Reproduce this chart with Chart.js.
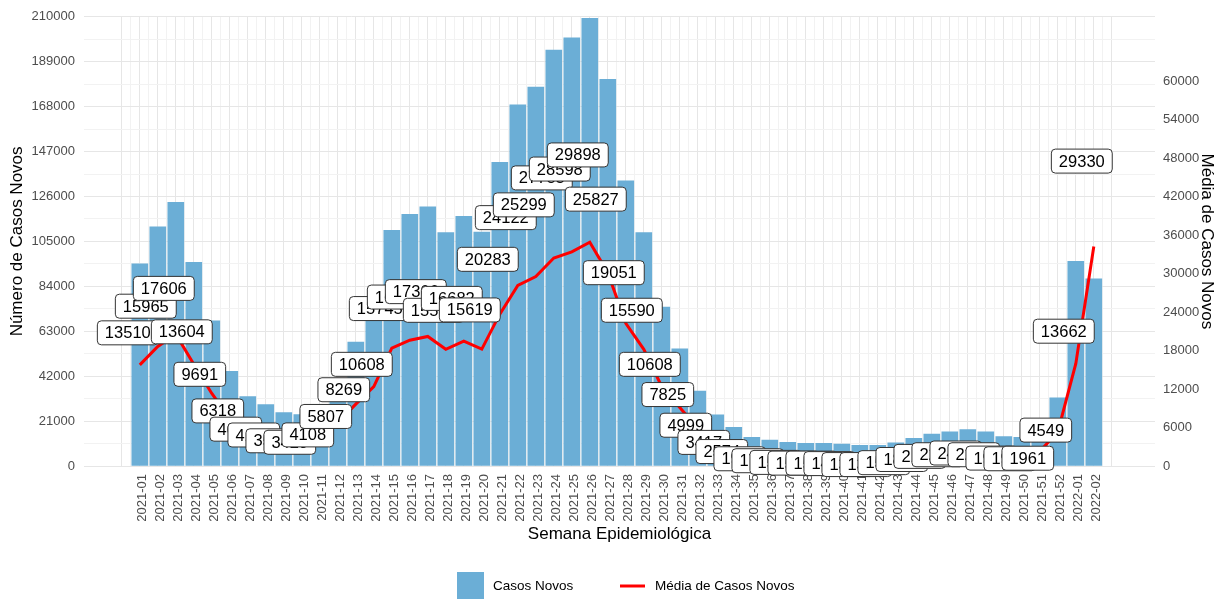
<!DOCTYPE html>
<html lang="pt-BR">
<head>
<meta charset="utf-8">
<title>Casos Novos por Semana Epidemiológica</title>
<script src="https://cdn.jsdelivr.net/npm/chart.js@4.4.1/dist/chart.umd.min.js"></script>
<style>
  html, body { margin: 0; padding: 0; background: #fff; }
  #chart { display: block; }
</style>
</head>
<body>
<canvas id="chart" width="1223" height="599"></canvas>
<script>
// Semanas epidemiológicas (eixo x)
const weeks = [
  '2021-01', '2021-02', '2021-03', '2021-04', '2021-05', '2021-06', '2021-07', '2021-08', '2021-09', '2021-10',
  '2021-11', '2021-12', '2021-13', '2021-14', '2021-15', '2021-16', '2021-17', '2021-18', '2021-19', '2021-20',
  '2021-21', '2021-22', '2021-23', '2021-24', '2021-25', '2021-26', '2021-27', '2021-28', '2021-29', '2021-30',
  '2021-31', '2021-32', '2021-33', '2021-34', '2021-35', '2021-36', '2021-37', '2021-38', '2021-39', '2021-40',
  '2021-41', '2021-42', '2021-43', '2021-44', '2021-45', '2021-46', '2021-47', '2021-48', '2021-49', '2021-50',
  '2021-51', '2021-52', '2022-01', '2022-02'
];

// Casos novos por semana (barras, eixo esquerdo)
const newCases = [
  94570, 111760, 123240, 95230, 67840, 44230, 32460, 28710, 24960, 24000,
  28760, 40650, 57880, 74260, 110200, 117650, 121140, 109090, 116770, 109330,
  141980, 168850, 177090, 194480, 200190, 209290, 180790, 133360, 109130, 74260,
  54780, 34990, 23920, 18020, 13360, 12110, 11030, 10560, 10560, 10240,
  9620, 9620, 10860, 12900, 14900, 15970, 17080, 15970, 13800, 13360,
  13730, 31840, 95630, 87530
];

// Média de casos novos (linha e rótulos)
const avgCases = [
  13510, 15965, 17606, 13604, 9691, 6318, 4637, 4101, 3566, 3429,
  4108, 5807, 8269, 10608, 15745, 16807, 17306, 15584, 16682, 15619,
  20283, 24122, 25299, 27783, 28598, 29898, 25827, 19051, 15590, 10608,
  7825, 4999, 3417, 2574, 1909, 1730, 1576, 1509, 1509, 1463,
  1374, 1374, 1551, 1843, 2129, 2281, 2440, 2281, 1971, 1909,
  1961, 4549, 13662, 29330
];

// Marcas dos eixos
const leftTicks = [0, 21000, 42000, 63000, 84000, 105000, 126000, 147000, 168000, 189000, 210000];
const rightTicks = [0, 6000, 12000, 18000, 24000, 30000, 36000, 42000, 48000, 54000, 60000];

const FONT = '"Liberation Sans", Arial, Helvetica, sans-serif';
const BAR_COLOR = '#6BAED6';
const LINE_COLOR = '#FF0000';
const TICK_COLOR = '#4D4D4D';
const GRID_MAJOR = '#E6E6E6';
const GRID_MINOR = '#F2F2F2';

// half-step ticks so the minor grid gets drawn too
function withMinor(ticks) {
  const out = [];
  for (let i = 0; i < ticks.length; i++) {
    out.push({ value: ticks[i] });
    if (i < ticks.length - 1) out.push({ value: (ticks[i] + ticks[i + 1]) / 2 });
  }
  return out;
}

const xTickValues = [];
for (let v = -1; v <= weeks.length; v += 0.5) xTickValues.push({ value: v });

// boxed labels for the weekly average, nudged up-left of each point
const avgLabels = {
  id: 'avgLabels',
  afterDatasetsDraw(chart) {
    const meta = chart.getDatasetMeta(1);
    const base = chart.chartArea.bottom;
    const ctx = chart.ctx;
    ctx.save();
    ctx.font = '16.5px ' + FONT;
    ctx.textAlign = 'center';
    ctx.textBaseline = 'middle';
    meta.data.forEach((pt, i) => {
      const text = String(avgCases[i]);
      const w = ctx.measureText(text).width + 15;
      const h = 24;
      const cx = pt.x - 12;
      const cy = pt.y - 0.45 * (base - pt.y - 30);
      const x0 = cx - w / 2, y0 = cy - h / 2, r = 4;
      ctx.beginPath();
      ctx.moveTo(x0 + r, y0);
      ctx.arcTo(x0 + w, y0, x0 + w, y0 + h, r);
      ctx.arcTo(x0 + w, y0 + h, x0, y0 + h, r);
      ctx.arcTo(x0, y0 + h, x0, y0, r);
      ctx.arcTo(x0, y0, x0 + w, y0, r);
      ctx.closePath();
      ctx.fillStyle = '#FFFFFF';
      ctx.fill();
      ctx.strokeStyle = '#333333';
      ctx.lineWidth = 1;
      ctx.stroke();
      ctx.fillStyle = '#000000';
      ctx.fillText(text, cx, cy + 1);
    });
    ctx.restore();
  }
};

// ggplot style legend under the x title
const bottomLegend = {
  id: 'bottomLegend',
  afterDraw(chart) {
    const ctx = chart.ctx;
    const y = 586;
    ctx.save();
    ctx.fillStyle = BAR_COLOR;
    ctx.fillRect(457, y - 14, 27, 27);
    ctx.strokeStyle = LINE_COLOR;
    ctx.lineWidth = 3;
    ctx.beginPath();
    ctx.moveTo(620, y);
    ctx.lineTo(645, y);
    ctx.stroke();
    ctx.fillStyle = '#000000';
    ctx.font = '13.5px ' + FONT;
    ctx.textAlign = 'left';
    ctx.textBaseline = 'middle';
    ctx.fillText('Casos Novos', 493, y);
    ctx.fillText('Média de Casos Novos', 655, y);
    ctx.restore();
  }
};

new Chart(document.getElementById('chart'), {
  type: 'bar',
  data: {
    datasets: [
      {
        label: 'Casos Novos',
        data: newCases.map((v, i) => ({ x: i, y: v })),
        backgroundColor: BAR_COLOR,
        borderWidth: 0,
        // 90% of one week slot (the half-step grid ticks would halve the auto width)
        barThickness: 16,
        yAxisID: 'y',
        order: 2
      },
      {
        type: 'line',
        label: 'Média de Casos Novos',
        data: avgCases.map((v, i) => ({ x: i, y: v })),
        borderColor: LINE_COLOR,
        borderWidth: 3,
        pointRadius: 0,
        tension: 0,
        fill: false,
        yAxisID: 'yAvg',
        order: 1
      }
    ]
  },
  options: {
    responsive: false,
    animation: false,
    devicePixelRatio: 1,
    layout: { padding: { top: 15, left: 0, right: 0, bottom: 0 } },
    plugins: {
      legend: { display: false },
      tooltip: { enabled: false }
    },
    scales: {
      x: {
        type: 'linear',
        min: -3.1,
        max: 56.4,
        offset: false,
        border: { display: false },
        grid: {
          offset: false,
          drawTicks: false,
          color: (c) => Number.isInteger(c.tick.value) ? GRID_MAJOR : GRID_MINOR,
          lineWidth: 1
        },
        afterBuildTicks: (scale) => { scale.ticks = xTickValues.map(t => ({ value: t.value })); },
        afterFit: (scale) => { scale.height = 133; },
        ticks: {
          autoSkip: false,
          minRotation: 90,
          maxRotation: 90,
          padding: 8,
          labelOffset: 3,
          color: TICK_COLOR,
          font: { family: FONT, size: 13 },
          callback: (v) => (Number.isInteger(v) && weeks[v]) ? weeks[v] : ''
        },
        title: {
          display: true,
          text: 'Semana Epidemiológica',
          color: '#000000',
          font: { family: FONT, size: 17 },
          padding: { top: 4, bottom: 54 }
        }
      },
      y: {
        position: 'left',
        min: 0,
        max: 210000,
        border: { display: false },
        grid: {
          drawTicks: false,
          color: (c) => c.tick.value % 21000 === 0 ? GRID_MAJOR : GRID_MINOR,
          lineWidth: 1
        },
        afterBuildTicks: (scale) => { scale.ticks = withMinor(leftTicks); },
        afterFit: (scale) => { scale.width = 84; },
        ticks: {
          padding: 9,
          color: TICK_COLOR,
          font: { family: FONT, size: 13 },
          callback: (v) => v % 21000 === 0 ? String(v) : ''
        },
        title: {
          display: true,
          text: 'Número de Casos Novos',
          color: '#000000',
          font: { family: FONT, size: 17 },
          padding: { top: 7, bottom: 0 }
        }
      },
      yRight: {
        position: 'right',
        min: 0,
        max: 70000,
        border: { display: false },
        grid: { drawOnChartArea: false, drawTicks: false },
        afterBuildTicks: (scale) => { scale.ticks = rightTicks.map(v => ({ value: v })); },
        afterFit: (scale) => { scale.width = 68; },
        ticks: {
          padding: 8,
          color: TICK_COLOR,
          font: { family: FONT, size: 13 },
          callback: (v) => String(v)
        },
        title: {
          display: true,
          text: 'Média de Casos Novos',
          color: '#000000',
          font: { family: FONT, size: 17 },
          padding: { top: 6, bottom: 0 }
        }
      },
      // the average line is drawn against this scale
      yAvg: {
        display: false,
        position: 'right',
        min: 0,
        max: 60000
      }
    }
  },
  plugins: [avgLabels, bottomLegend]
});
</script>
</body>
</html>
